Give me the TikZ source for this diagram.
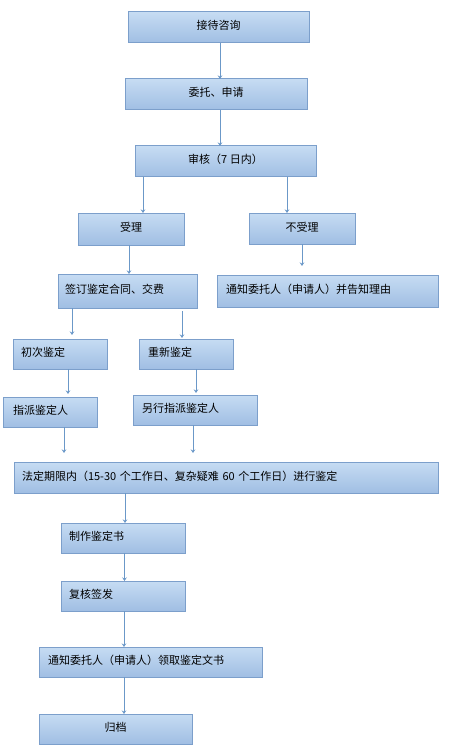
\documentclass[tikz,border=0pt]{standalone}
\usepackage{fontspec}
\newfontfamily\cjk{Noto Sans CJK SC}
\usetikzlibrary{arrows.meta,calc}
\definecolor{boxtop}{HTML}{C6DCF3}
\definecolor{boxbot}{HTML}{A0BEE3}
\definecolor{boxline}{HTML}{7C9FCB}
\definecolor{arrline}{HTML}{6B98C8}
\begin{document}
\begin{tikzpicture}[x=1pt,y=-1pt,
  fbox/.style={draw=boxline, line width=1pt, top color=boxtop, bottom color=boxbot,
    font=\cjk\fontsize{11}{13}\selectfont, inner sep=0pt, outer sep=0pt,
    text height=8pt, text depth=3pt},
  arr/.style={draw=arrline, line width=1pt, -{Stealth[length=3.5pt,width=4.5pt]}}]
\useasboundingbox (0,0) rectangle (458,754);
\node[fbox, minimum width=181, minimum height=31] (n1) at (218.5,27.5) {接待咨询};
\node[fbox, minimum width=182, minimum height=31] (n2) at (216,94.5) {委托、申请};
\node[fbox, minimum width=181, minimum height=31] (n3) at (225.5,161.5) {审核（7 日内）};
\node[fbox, minimum width=106, minimum height=32] (n4) at (131,229) {受理};
\node[fbox, minimum width=106, minimum height=31] (n5) at (302,228.5) {不受理};
\node[fbox, minimum width=221, minimum height=32, align=left, text width=203] (n6) at (327.5,291) {通知委托人（申请人）并告知理由};
\node[fbox, minimum width=139, minimum height=34, align=left, text width=125] (n7) at (127.5,291) {签订鉴定合同、交费};
\node[fbox, minimum width=94, minimum height=30, align=left, text width=78] (n8) at (60,354) {初次鉴定};
\node[fbox, minimum width=94, minimum height=30, align=left, text width=76] (n9) at (186,354) {重新鉴定};
\node[fbox, minimum width=94, minimum height=30, align=left, text width=74] (n10) at (50,412) {指派鉴定人};
\node[fbox, minimum width=124, minimum height=30, align=left, text width=106] (n11) at (195,410) {另行指派鉴定人};
\node[fbox, minimum width=424, minimum height=31, align=left, text width=408] (n12) at (226,477.5) {法定期限内（15-30 个工作日、复杂疑难 60 个工作日）进行鉴定};
\node[fbox, minimum width=124, minimum height=30, align=left, text width=108] (n13) at (123,538) {制作鉴定书};
\node[fbox, minimum width=124, minimum height=30, align=left, text width=108] (n14) at (123,596) {复核签发};
\node[fbox, minimum width=223, minimum height=30, align=left, text width=205] (n15) at (150.5,662) {通知委托人（申请人）领取鉴定文书};
\node[fbox, minimum width=153, minimum height=30] (n16) at (115.5,729) {归档};
% connectors
\draw[arr] (n1.south -| 220,0) -- (n2.north -| 220,0);
\draw[arr] (n2.south -| 220,0) -- (n3.north -| 220,0);
\draw[arr] (n3.south -| 143,0) -- (n4.north -| 143,0);
\draw[arr] (n3.south -| 287,0) -- (n5.north -| 287,0);
\draw[arr] (n4.south -| 129,0) -- (n7.north -| 129,0);
\draw[arr, shorten >=9pt] (n5.south -| 302,0) -- (n6.north -| 302,0);
\draw[arr, shorten >=4pt] (n7.south -| 72,0) -- (n8.north -| 72,0);
\draw[arr, shorten <=3pt, shorten >=1pt] (n7.south -| 182,0) -- (n9.north -| 182,0);
\draw[arr, shorten >=3pt] (n8.south -| 68,0) -- (n10.north -| 68,0);
\draw[arr, shorten >=2pt] (n9.south -| 196,0) -- (n11.north -| 196,0);
\draw[arr, shorten >=9pt] (n10.south -| 64,0) -- (n12.north -| 64,0);
\draw[arr, shorten >=9pt] (n11.south -| 193,0) -- (n12.north -| 193,0);
\draw[arr] (n12.south -| 125,0) -- (n13.north -| 125,0);
\draw[arr] (n13.south -| 124.5,0) -- (n14.north -| 124.5,0);
\draw[arr] (n14.south -| 124,0) -- (n15.north -| 124,0);
\draw[arr] (n15.south -| 124,0) -- (n16.north -| 124,0);
\end{tikzpicture}
\end{document}
